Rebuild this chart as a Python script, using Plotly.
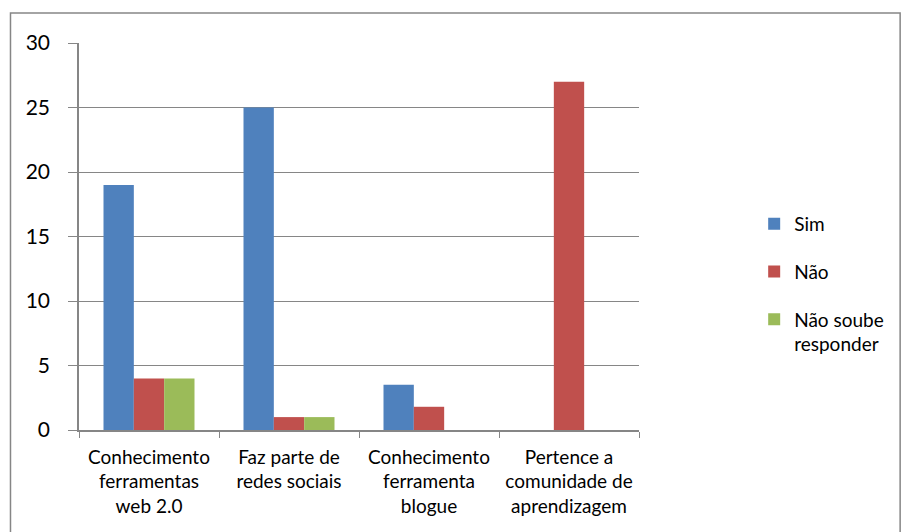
import plotly.graph_objects as go

categories = ["Conhecimento<br>ferramentas<br>web 2.0", "Faz parte de<br>redes sociais",
              "Conhecimento<br>ferramenta<br>blogue", "Pertence a<br>comunidade de<br>aprendizagem"]
sim = [19, 25, 3.5, 0]
nao = [4, 1, 1.8, 27]
nao_soube = [4, 1, 0, 0]
series_names = ["Sim", "Não", "Não soube<br>responder"]
colors = ["#4F81BD", "#C0504D", "#9BBB59"]

font = "Lato, 'Open Sans', sans-serif"
fig = go.Figure()
for i, (name, vals) in enumerate(zip(series_names, [sim, nao, nao_soube])):
    fig.add_trace(go.Bar(x=categories, y=vals, name=name, marker_color=colors[i],
                         marker_line_width=0, legendgroup=str(i)))

L, R, T, B = 79, 643, 43, 430
W, H = 901, 532
fig.update_layout(
    width=W, height=H,
    margin=dict(l=L, r=W - R, t=T, b=H - B),
    paper_bgcolor="white", plot_bgcolor="white",
    barmode="group", bargap=0.35, bargroupgap=0,
    font=dict(family=font, size=19, color="#000000"),
    legend=dict(x=(759 - L) / (R - L), y=(B - 205) / (B - T), xanchor="left", yanchor="top",
                tracegroupgap=20, font=dict(size=19), valign="top",
                itemwidth=30),
    showlegend=True,
)
fig.update_xaxes(showline=True, linecolor="#868686", linewidth=1.5,
                 ticks="outside", tickson="boundaries", ticklen=6, tickcolor="#868686",
                 tickfont=dict(size=19), ticklabelstandoff=9, showgrid=False)
fig.update_yaxes(range=[0, 30], dtick=5, showline=True, linecolor="#868686", linewidth=1.5,
                 ticks="outside", ticklen=9, tickcolor="#868686",
                 showgrid=True, gridcolor="#868686", gridwidth=1,
                 tickfont=dict(size=21), ticklabelstandoff=14, zeroline=False)

# outer chart border
x0 = (10 - L) / (R - L); x1 = (W + 5 - L) / (R - L)
y1 = (B - 13) / (B - T); y0 = (B - (H + 5)) / (B - T)
fig.add_shape(type="rect", xref="paper", yref="paper", x0=x0, x1=x1, y0=y0, y1=y1,
              line=dict(color="#868686", width=1.5), fillcolor="rgba(0,0,0,0)", layer="below")

fig.write_html("out.html")
